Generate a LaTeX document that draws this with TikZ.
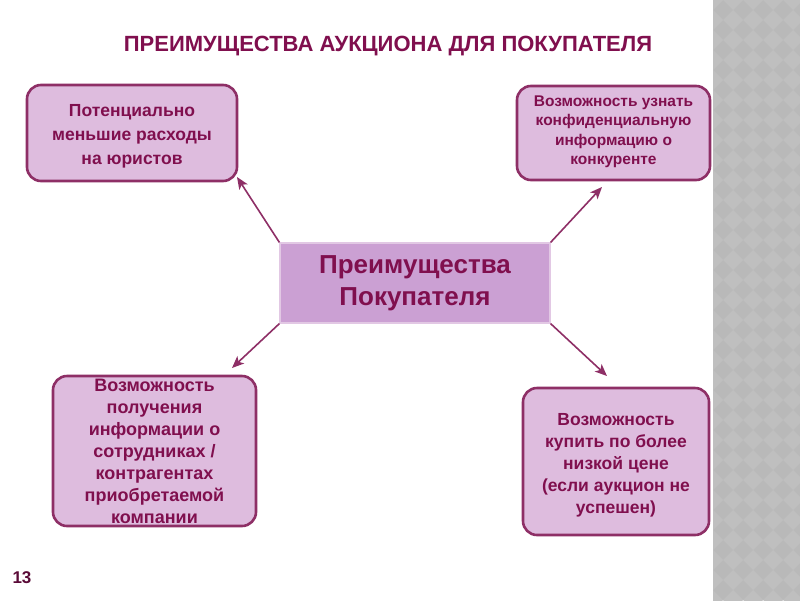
\documentclass[tikz,border=0pt]{standalone}
\usepackage{fontspec}
\setmainfont{Liberation Sans}
\usetikzlibrary{arrows.meta}
\definecolor{txt}{HTML}{800F4E}
\definecolor{bord}{HTML}{8E2F66}
\definecolor{boxfill}{HTML}{DEBCDE}
\definecolor{cfill}{HTML}{CBA0D3}
\definecolor{cbord}{HTML}{E2C8E4}
\definecolor{strip}{HTML}{B9B9B9}
\definecolor{stripl}{HTML}{BFBFBF}
\tikzset{
  sidebox/.style={draw=bord, line width=2.6pt, fill=boxfill, rounded corners=14pt,
    align=center, text=txt, font=\bfseries, inner sep=2pt},
  centerbox/.style={draw=cbord, line width=1.2pt, fill=cfill, align=center,
    text=txt, font=\bfseries\fontsize{26}{32}\selectfont, minimum width=270pt, minimum height=80pt},
  conn/.style={draw=bord, line width=1.6pt, -{Stealth[length=12pt,width=10pt,inset=3pt]}},
}
\begin{document}
\begin{tikzpicture}[x=1pt,y=-1pt]
\useasboundingbox (0,0) rectangle (800,600);
\fill[white] (0,0) rectangle (800,600);
% right strip
\begin{scope}
\clip (713,0) rectangle (800,600);
\fill[strip] (713,0) rectangle (800,600);
\foreach \i in {0,...,5} {
  \foreach \j in {0,...,30} {
    \fill[stripl] ({713+\i*20},{\j*20-10}) -- ++(10,10) -- ++(-10,10) -- ++(-10,-10) -- cycle;
  }
}
\end{scope}
% title
\node[text=txt, font=\bfseries\fontsize{22}{26}\selectfont] (title) at (388,46) {ПРЕИМУЩЕСТВА АУКЦИОНА ДЛЯ ПОКУПАТЕЛЯ};
% center
\node[centerbox] (c) at (415,283) {Преимущества\\Покупателя};
% boxes
\node[sidebox, minimum width=210pt, minimum height=96pt] (tl) at (132,133) {};
\node[text=txt, align=center, font=\bfseries\fontsize{17.5}{24}\selectfont] (tltext) at (132,136)
  {Потенциально\\меньшие расходы\\на юристов};
\node[sidebox, minimum width=193pt, minimum height=94pt] (tr) at (613.5,133) {};
\node[text=txt, align=center, font=\bfseries\fontsize{15.5}{19.5}\selectfont] (trtext) at (613.5,132)
  {Возможность узнать\\конфиденциальную\\информацию о\\конкуренте};
\node[sidebox, minimum width=203pt, minimum height=150pt] (bl) at (154.5,451) {};
\node[text=txt, align=center, font=\bfseries\fontsize{18}{22}\selectfont] (bltext) at (154.5,451)
  {Возможность\\получения\\информации о\\сотрудниках /\\контрагентах\\приобретаемой\\компании};
\node[sidebox, minimum width=186pt, minimum height=147pt] (br) at (616,461.5) {};
\node[text=txt, align=center, font=\bfseries\fontsize{17.5}{22}\selectfont] (brtext) at (616,465)
  {Возможность\\купить по более\\низкой цене\\(если аукцион не\\успешен)};
% arrow tips
\coordinate (ttl) at (237,177);
\coordinate (ttr) at (602,187);
\coordinate (tbl) at (232,368);
\coordinate (tbr) at (607,376);
\draw[conn] (c.north west) -- (ttl);
\draw[conn] (c.north east) -- (ttr);
\draw[conn] (c.south west) -- (tbl);
\draw[conn] (c.south east) -- (tbr);
% page number
\node[text=txt!70!black, font=\bfseries\fontsize{17}{19}\selectfont] (num) at (22,578) {13};
\end{tikzpicture}
\end{document}
